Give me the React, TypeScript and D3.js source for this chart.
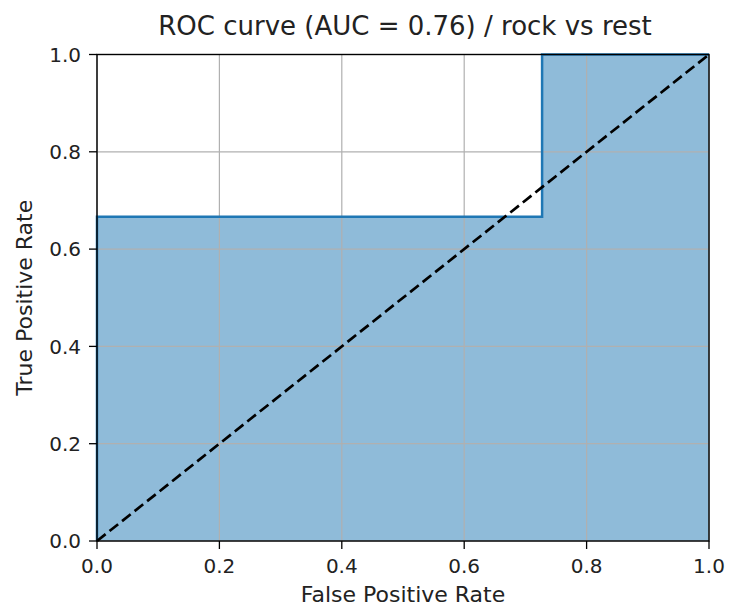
import * as d3 from 'd3';

const fpr = [0, 0, 8 / 11, 8 / 11, 1];
const tpr = [0, 2 / 3, 2 / 3, 1, 1];
const ticks = [0, 0.2, 0.4, 0.6, 0.8, 1.0];
const title = 'ROC curve (AUC = 0.76) / rock vs rest';

const W = 736;
const H = 608;
const m = { left: 97, right: 709, top: 54.5, bottom: 541 };
const font = '"DejaVu Sans", sans-serif';

export default function App() {
  const x = d3.scaleLinear().domain([0, 1]).range([m.left, m.right]);
  const y = d3.scaleLinear().domain([0, 1]).range([m.bottom, m.top]);
  const pts = fpr.map((f, i) => [f, tpr[i]] as [number, number]);

  const line = d3.line<[number, number]>().x(d => x(d[0])).y(d => y(d[1]));
  const area = d3
    .area<[number, number]>()
    .x(d => x(d[0]))
    .y0(y(0))
    .y1(d => y(d[1]));

  return (
    <svg width={W} height={H} style={{ position: 'absolute', left: 0, top: 0 }}>
      <rect width={W} height={H} fill="#fff" />
      <path d={area(pts) ?? ''} fill="#1f77b4" fillOpacity={0.5} />
      {ticks.map(t => (
        <g key={'g' + t}>
          <line x1={x(t)} x2={x(t)} y1={m.top} y2={m.bottom} stroke="#b0b0b0" strokeWidth={1.2} />
          <line x1={m.left} x2={m.right} y1={y(t)} y2={y(t)} stroke="#b0b0b0" strokeWidth={1.2} />
        </g>
      ))}
      <path d={line(pts) ?? ''} fill="none" stroke="#1f77b4" strokeWidth={2.5} />
      <line
        x1={x(0)}
        y1={y(0)}
        x2={x(1)}
        y2={y(1)}
        stroke="#000"
        strokeWidth={2.7}
        strokeDasharray="11,5"
      />
      <rect
        x={m.left}
        y={m.top}
        width={m.right - m.left}
        height={m.bottom - m.top}
        fill="none"
        stroke="#000"
        strokeWidth={1.4}
      />
      {ticks.map(t => (
        <g key={'t' + t} fontFamily={font} fontSize={20} fill="#222">
          <line x1={x(t)} x2={x(t)} y1={m.bottom} y2={m.bottom + 8} stroke="#000" strokeWidth={1.3} />
          <text x={x(t)} y={m.bottom + 32} textAnchor="middle">
            {t.toFixed(1)}
          </text>
          <line x1={m.left - 8} x2={m.left} y1={y(t)} y2={y(t)} stroke="#000" strokeWidth={1.3} />
          <text x={m.left - 16} y={y(t) + 7.3} textAnchor="end">
            {t.toFixed(1)}
          </text>
        </g>
      ))}
      <text
        x={(m.left + m.right) / 2 + 2}
        y={34.5}
        textAnchor="middle"
        fontFamily={font}
        fontSize={26}
        fill="#222"
      >
        {title}
      </text>
      <text
        x={(m.left + m.right) / 2}
        y={602}
        textAnchor="middle"
        fontFamily={font}
        fontSize={22}
        fill="#222"
      >
        False Positive Rate
      </text>
      <text
        transform={`translate(32,${(m.top + m.bottom) / 2}) rotate(-90)`}
        textAnchor="middle"
        fontFamily={font}
        fontSize={22}
        fill="#222"
      >
        True Positive Rate
      </text>
    </svg>
  );
}
